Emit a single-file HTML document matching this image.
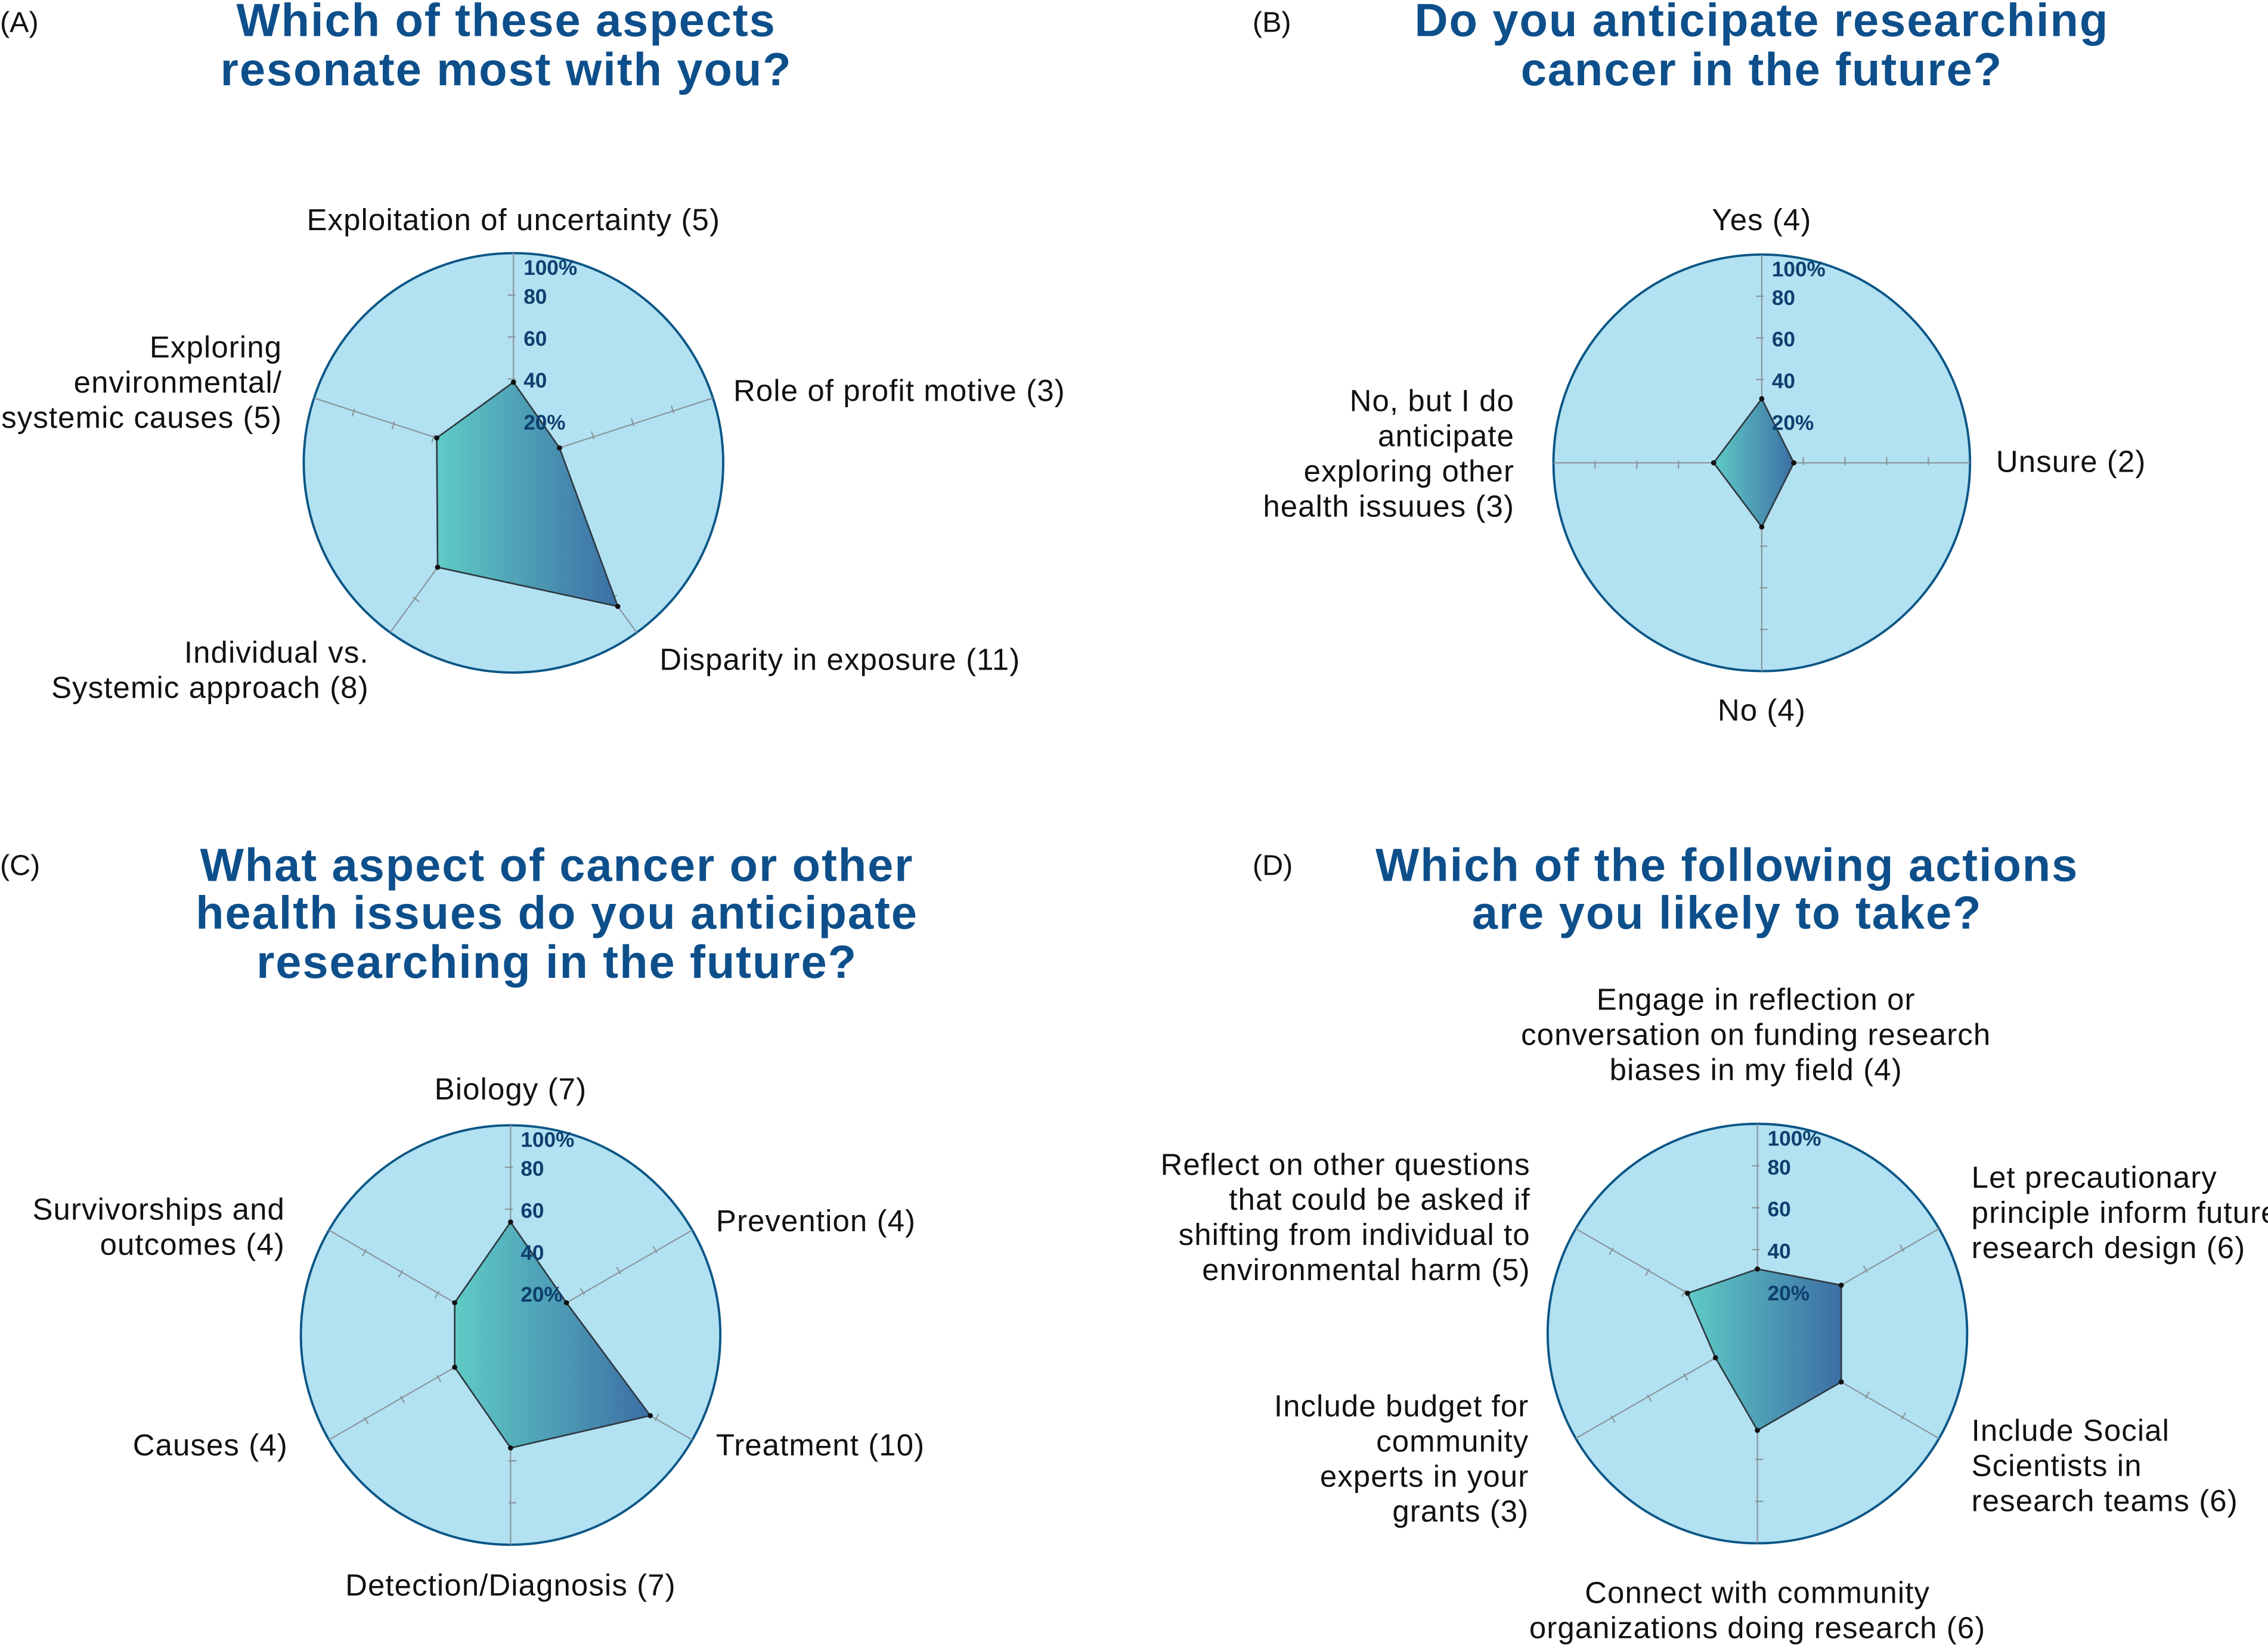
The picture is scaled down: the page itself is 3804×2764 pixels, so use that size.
<!DOCTYPE html>
<html><head><meta charset="utf-8"><style>
html,body{margin:0;padding:0;background:#fff}
svg{display:block}
text{font-family:"Liberation Sans",sans-serif}
.lbl{font-size:21px;letter-spacing:0.45px;fill:#111}
.ttl{font-size:32px;letter-spacing:0.8px;font-weight:bold;fill:#0d4f8b}
.pl{font-size:20px;fill:#111}
.tk{font-size:14.5px;font-weight:bold;fill:#0e3f6e}
</style></head><body>
<svg id="fig" width="3804" height="2764" viewBox="0 0 1568 1139.4" preserveAspectRatio="none" xmlns="http://www.w3.org/2000/svg">
<defs><linearGradient id="g" x1="0" y1="0" x2="1" y2="0"><stop offset="0" stop-color="#5fcbc6"/><stop offset="1" stop-color="#3c6fa5"/></linearGradient></defs>
<text class="pl" x="0" y="22">(A)</text>
<text class="pl" x="866" y="22">(B)</text>
<text class="pl" x="0" y="605">(C)</text>
<text class="pl" x="866" y="605">(D)</text>
<g class="ttl" text-anchor="middle"><text x="350" y="25">Which of these aspects</text><text x="350" y="59">resonate most with you?</text></g>
<g class="ttl" text-anchor="middle"><text x="1218" y="25">Do you anticipate researching</text><text x="1218" y="59">cancer in the future?</text></g>
<g class="ttl" text-anchor="middle"><text x="385" y="609">What aspect of cancer or other</text><text x="385" y="642">health issues do you anticipate</text><text x="385" y="676">researching in the future?</text></g>
<g class="ttl" text-anchor="middle"><text x="1194" y="609">Which of the following actions</text><text x="1194" y="642">are you likely to take?</text></g>
<g id="charts"></g>
</svg>
<script>
const respondents = 13;
const countsA = [5, 3, 11, 8, 5];
const countsB = [4, 2, 4, 3];
const countsC = [7, 4, 10, 7, 4, 4];
const countsD = [4, 6, 6, 6, 3, 5];
const tickValues = [20, 40, 60, 80, 100];
const tickLabels = ["20%", "40", "60", "80", "100%"];

const NS = "http://www.w3.org/2000/svg";
const root = document.getElementById("charts");
function mk(tag, attrs, parent){const e=document.createElementNS(NS,tag);for(const k in attrs)e.setAttribute(k,attrs[k]);parent.appendChild(e);return e;}

const panels = [
 {id:"a", cx:355, cy:320, r:145, counts:countsA, labels:[
  {t:["Exploitation of uncertainty (5)"],x:355,y:152,a:"middle"},
  {t:["Role of profit motive (3)"],x:507,y:270,a:"start"},
  {t:["Disparity in exposure (11)"],x:456,y:456,a:"start"},
  {t:["Individual vs.","Systemic approach (8)"],x:255,y:451,a:"end"},
  {t:["Exploring","environmental/","systemic causes (5)"],x:195,y:240,a:"end"}]},
 {id:"b", cx:1218, cy:320, r:144, counts:countsB, labels:[
  {t:["Yes (4)"],x:1218,y:152,a:"middle"},
  {t:["Unsure (2)"],x:1380,y:319,a:"start"},
  {t:["No (4)"],x:1218,y:491,a:"middle"},
  {t:["No, but I do","anticipate","exploring other","health issuues (3)"],x:1047,y:277,a:"end"}]},
 {id:"c", cx:353, cy:923, r:145, counts:countsC, labels:[
  {t:["Biology (7)"],x:353,y:753,a:"middle"},
  {t:["Prevention (4)"],x:495,y:844,a:"start"},
  {t:["Treatment (10)"],x:495,y:999,a:"start"},
  {t:["Detection/Diagnosis (7)"],x:353,y:1096,a:"middle"},
  {t:["Causes (4)"],x:199,y:999,a:"end"},
  {t:["Survivorships and","outcomes (4)"],x:197,y:836,a:"end"}]},
 {id:"d", cx:1215, cy:922, r:145, counts:countsD, labels:[
  {t:["Engage in reflection or","conversation on funding research","biases in my field (4)"],x:1214,y:691,a:"middle"},
  {t:["Let precautionary","principle inform future","research design (6)"],x:1363,y:814,a:"start"},
  {t:["Include Social","Scientists in","research teams (6)"],x:1363,y:989,a:"start"},
  {t:["Connect with community","organizations doing research (6)"],x:1215,y:1101,a:"middle"},
  {t:["Include budget for","community","experts in your","grants (3)"],x:1057,y:972,a:"end"},
  {t:["Reflect on other questions","that could be asked if","shifting from individual to","environmental harm (5)"],x:1058,y:805,a:"end"}]}
];

panels.forEach(p=>{
 const g = mk("g",{},root);
 
 
 const n = p.counts.length;
 const ang = i => -Math.PI/2 + i*2*Math.PI/n;
 const pt = (i,pct) => [p.cx + Math.cos(ang(i))*p.r*pct/100, p.cy + Math.sin(ang(i))*p.r*pct/100];
 const c = mk("circle",{cx:p.cx,cy:p.cy,r:p.r,fill:"#b2e1f2",stroke:"#0c5686","stroke-width":1.6},g);
 
 
 for(let i=0;i<n;i++){
  const e = pt(i,100);
  const ax = mk("line",{x1:p.cx,y1:p.cy,x2:e[0],y2:e[1],stroke:"#8a969c","stroke-width":0.9},g);
  
  
  const a = ang(i), px = Math.sin(a), py = -Math.cos(a);
  tickValues.slice(0,4).forEach(v=>{
   const q = pt(i,v);
   const tk = mk("line",{x1:q[0]-px*1.5,y1:q[1]-py*1.5,x2:q[0]+px*4,y2:q[1]+py*4,stroke:"#8a969c","stroke-width":0.9},g);
   
   
  });
 }
 const pts = p.counts.map((v,i)=>pt(i, v/respondents*100));
 const poly = mk("polygon",{points:pts.map(q=>q.join(",")).join(" "),fill:"url(#g)",stroke:"#2e3a40","stroke-width":1.1,"stroke-linejoin":"round"},g);
 
 
 pts.forEach(q=>{
  const d = mk("circle",{cx:q[0],cy:q[1],r:1.8,fill:"#111"},g);
  
  
 });
 tickValues.forEach((v,k)=>{
  const y = v===100 ? p.cy - p.r + 15 : p.cy - p.r*v/100 + 6;
  const t = mk("text",{x:p.cx+7,y:y,"class":"tk"},g);
  t.textContent = tickLabels[k];
  
  
 });
 p.labels.forEach(L=>{
  const t = mk("text",{x:L.x,y:L.y,"text-anchor":L.a,"class":"lbl"},g);
  
  
  L.t.forEach((s,j)=>{const ts=mk("tspan",{x:L.x,y:L.y+j*24.3,"dominant-baseline":"central"},t);ts.textContent=s;});
 });
});
</script>
</body></html>
